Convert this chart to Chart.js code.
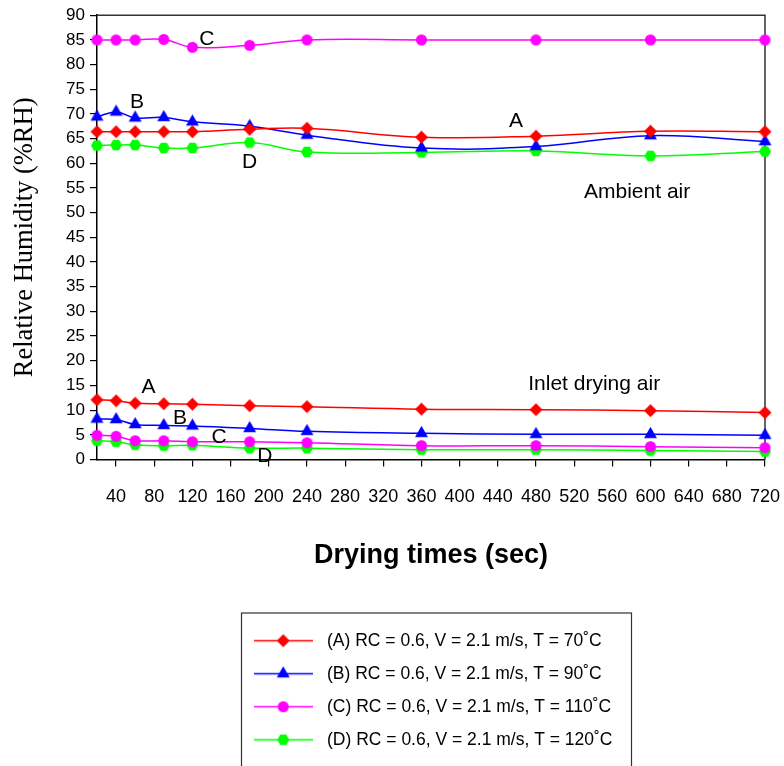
<!DOCTYPE html>
<html>
<head>
<meta charset="utf-8">
<script src="https://cdn.jsdelivr.net/npm/chart.js@4.4.0/dist/chart.umd.min.js"></script>
<style>
  body { margin: 0; background: #fff; }
  canvas { display: block; }
</style>
</head>
<body>
<canvas id="humidityChart" width="784" height="766"></canvas>
<script>
// drying time (sec) and tick labels
const times = [20, 40, 60, 90, 120, 180, 240, 360, 480, 600, 720];
const xTicks = [40, 80, 120, 160, 200, 240, 280, 320, 360, 400, 440, 480, 520, 560, 600, 640, 680, 720];

const seriesNames = [
    '(A) RC = 0.6, V = 2.1 m/s, T = 70˚C',
    '(B) RC = 0.6, V = 2.1 m/s, T = 90˚C',
    '(C) RC = 0.6, V = 2.1 m/s, T = 110˚C',
    '(D) RC = 0.6, V = 2.1 m/s, T = 120˚C'
];

// ambient air (%RH)
const ambientA = [66.4, 66.4, 66.4, 66.4, 66.4, 66.9, 67.1, 65.3, 65.5, 66.5, 66.4];
const ambientB = [69.4, 70.4, 69.2, 69.3, 68.4, 67.5, 65.7, 63.1, 63.4, 65.6, 64.4];
const ambientC = [85.0, 85.0, 85.0, 85.1, 83.5, 83.9, 85.0, 85.0, 85.0, 85.0, 85.0];
const ambientD = [63.6, 63.7, 63.7, 63.1, 63.1, 64.2, 62.3, 62.2, 62.5, 61.5, 62.4];

// inlet drying air (%RH)
const inletA = [12.1, 11.9, 11.4, 11.3, 11.2, 10.9, 10.7, 10.2, 10.1, 9.9, 9.5];
const inletB = [8.2, 8.1, 7.1, 6.9, 6.8, 6.3, 5.7, 5.3, 5.1, 5.1, 4.9];
const inletC = [4.9, 4.7, 3.8, 3.8, 3.6, 3.6, 3.4, 2.8, 2.8, 2.6, 2.4];
const inletD = [3.8, 3.6, 3.0, 2.8, 2.9, 2.3, 2.3, 2.0, 2.0, 1.8, 1.6];

const colors = ['#ff0000', '#0000ff', '#ff00ff', '#00ff00'];
const shapes = ['diamond', 'triangle', 'circle', 'hexagon'];
const sizes = [6.5, 7.5, 5.5, 6];

// text written inside the plot, in data units
const notes = [
    {text: 'C', x: 135, y: 85.2},
    {text: 'B', x: 62, y: 72.4},
    {text: 'A', x: 459, y: 68.6},
    {text: 'D', x: 180, y: 60.3},
    {text: 'Ambient air', x: 586, y: 54.2},
    {text: 'Inlet drying air', x: 541, y: 15.2},
    {text: 'A', x: 74, y: 14.6},
    {text: 'B', x: 107, y: 8.4},
    {text: 'C', x: 148, y: 4.6},
    {text: 'D', x: 196, y: 0.6}
];

const sans = '"Liberation Sans", Arial, sans-serif';

function makeIcon(shape, color, r, lineLen) {
    const h = Math.ceil(2 * r + 2);
    const w = lineLen || h;
    const c = document.createElement('canvas');
    c.width = w;
    c.height = h;
    const g = c.getContext('2d');
    const cx = w / 2, cy = h / 2;
    if (lineLen) {
        g.strokeStyle = color;
        g.lineWidth = 1.5;
        g.beginPath();
        g.moveTo(0, cy);
        g.lineTo(w, cy);
        g.stroke();
    }
    g.fillStyle = color;
    g.beginPath();
    if (shape === 'diamond') {
        g.moveTo(cx, cy - r);
        g.lineTo(cx + r, cy);
        g.lineTo(cx, cy + r);
        g.lineTo(cx - r, cy);
    } else if (shape === 'triangle') {
        g.moveTo(cx, cy - r);
        g.lineTo(cx + r * 0.866, cy + r / 2);
        g.lineTo(cx - r * 0.866, cy + r / 2);
    } else if (shape === 'circle') {
        g.arc(cx, cy, r, 0, Math.PI * 2);
    } else {
        for (let i = 0; i < 6; i++) {
            const a = i * Math.PI / 3;
            g.lineTo(cx + r * Math.cos(a), cy + r * Math.sin(a));
        }
    }
    g.closePath();
    g.fill();
    return c;
}

const pointIcons = shapes.map((s, i) => makeIcon(s, colors[i], sizes[i]));
const legendIcons = shapes.map((s, i) => makeIcon(s, colors[i], sizes[i], 59));

function series(label, values, k) {
    return {
        label: label,
        data: times.map((t, i) => ({x: t, y: values[i]})),
        borderColor: colors[k],
        backgroundColor: colors[k],
        borderWidth: 1.5,
        pointStyle: pointIcons[k],
        pointRadius: 6,
        tension: 0.4,
        fill: false,
        clip: false
    };
}

const notesPlugin = {
    id: 'notes',
    afterDatasetsDraw(chart) {
        const {ctx, scales: {x, y}} = chart;
        ctx.save();
        ctx.font = '21px ' + sans;
        ctx.fillStyle = '#000';
        ctx.textAlign = 'center';
        ctx.textBaseline = 'middle';
        notes.forEach(n => ctx.fillText(n.text, x.getPixelForValue(n.x), y.getPixelForValue(n.y)));
        ctx.restore();
    }
};

const framePlugin = {
    id: 'frame',
    beforeDatasetsDraw(chart) {
        const {ctx, chartArea: a} = chart;
        ctx.save();
        ctx.strokeStyle = '#333';
        ctx.lineWidth = 1.5;
        ctx.beginPath();
        ctx.moveTo(a.left, a.top);
        ctx.lineTo(a.right, a.top);
        ctx.lineTo(a.right, a.bottom);
        ctx.stroke();
        ctx.restore();
    }
};

// move the legend under the middle and frame it
const legendBoxPlugin = {
    id: 'legendBox',
    afterLayout(chart) {
        chart.legend.left = 232.75;
        chart.legend.right = 640;
    },
    afterDraw(chart) {
        const ctx = chart.ctx;
        const lg = chart.legend;
        ctx.save();
        ctx.strokeStyle = '#333';
        ctx.lineWidth = 1.2;
        ctx.strokeRect(241.5, lg.top - 3.5, 390, 200);
        ctx.restore();
    }
};

const ctx = document.getElementById('humidityChart').getContext('2d');

new Chart(ctx, {
    type: 'line',
    data: {
        datasets: [
            series(seriesNames[0], ambientA, 0),
            series(seriesNames[1], ambientB, 1),
            series(seriesNames[2], ambientC, 2),
            series(seriesNames[3], ambientD, 3),
            series('A inlet', inletA, 0),
            series('B inlet', inletB, 1),
            series('C inlet', inletC, 2),
            series('D inlet', inletD, 3)
        ]
    },
    options: {
        responsive: false,
        animation: false,
        layout: {padding: {top: 13, right: 19, bottom: 7.5, left: 0}},
        scales: {
            x: {
                type: 'linear',
                min: 20,
                max: 720,
                afterBuildTicks: s => { s.ticks = xTicks.map(v => ({value: v})); },
                afterFit: s => { s.height = 157; s.paddingRight = 16; },
                border: {color: '#000', width: 1.5},
                grid: {drawOnChartArea: false, tickLength: 7, color: '#000', lineWidth: 1.2},
                ticks: {autoSkip: false, maxRotation: 0, padding: 20, color: '#000', font: {family: sans, size: 18}},
                title: {
                    display: true,
                    text: 'Drying times (sec)',
                    color: '#000',
                    font: {family: sans, size: 27, weight: 'bold'},
                    padding: {top: 0, bottom: 45}
                }
            },
            y: {
                min: 0,
                max: 90,
                afterFit: s => { s.width = 97; },
                border: {color: '#000', width: 1.5},
                grid: {drawOnChartArea: false, tickLength: 7, color: '#000', lineWidth: 1.2},
                ticks: {stepSize: 5, padding: 5, color: '#000', font: {family: sans, size: 17}},
                title: {
                    display: true,
                    text: 'Relative Humidity (%RH)',
                    color: '#000',
                    font: {family: '"Liberation Serif", "Times New Roman", serif', size: 26.5},
                    padding: {top: 9, bottom: 0}
                }
            }
        },
        plugins: {
            tooltip: {enabled: false},
            legend: {
                position: 'bottom',
                align: 'start',
                fullSize: false,
                labels: {
                    usePointStyle: true,
                    pointStyleWidth: 70,
                    padding: 15.5,
                    color: '#000',
                    font: {family: sans, size: 17.5},
                    generateLabels(chart) {
                        const items = Chart.defaults.plugins.legend.labels.generateLabels(chart);
                        items.forEach(it => { it.pointStyle = legendIcons[it.datasetIndex]; });
                        return items;
                    },
                    filter: item => item.datasetIndex < 4
                }
            }
        }
    },
    plugins: [framePlugin, notesPlugin, legendBoxPlugin]
});
</script>
</body>
</html>
